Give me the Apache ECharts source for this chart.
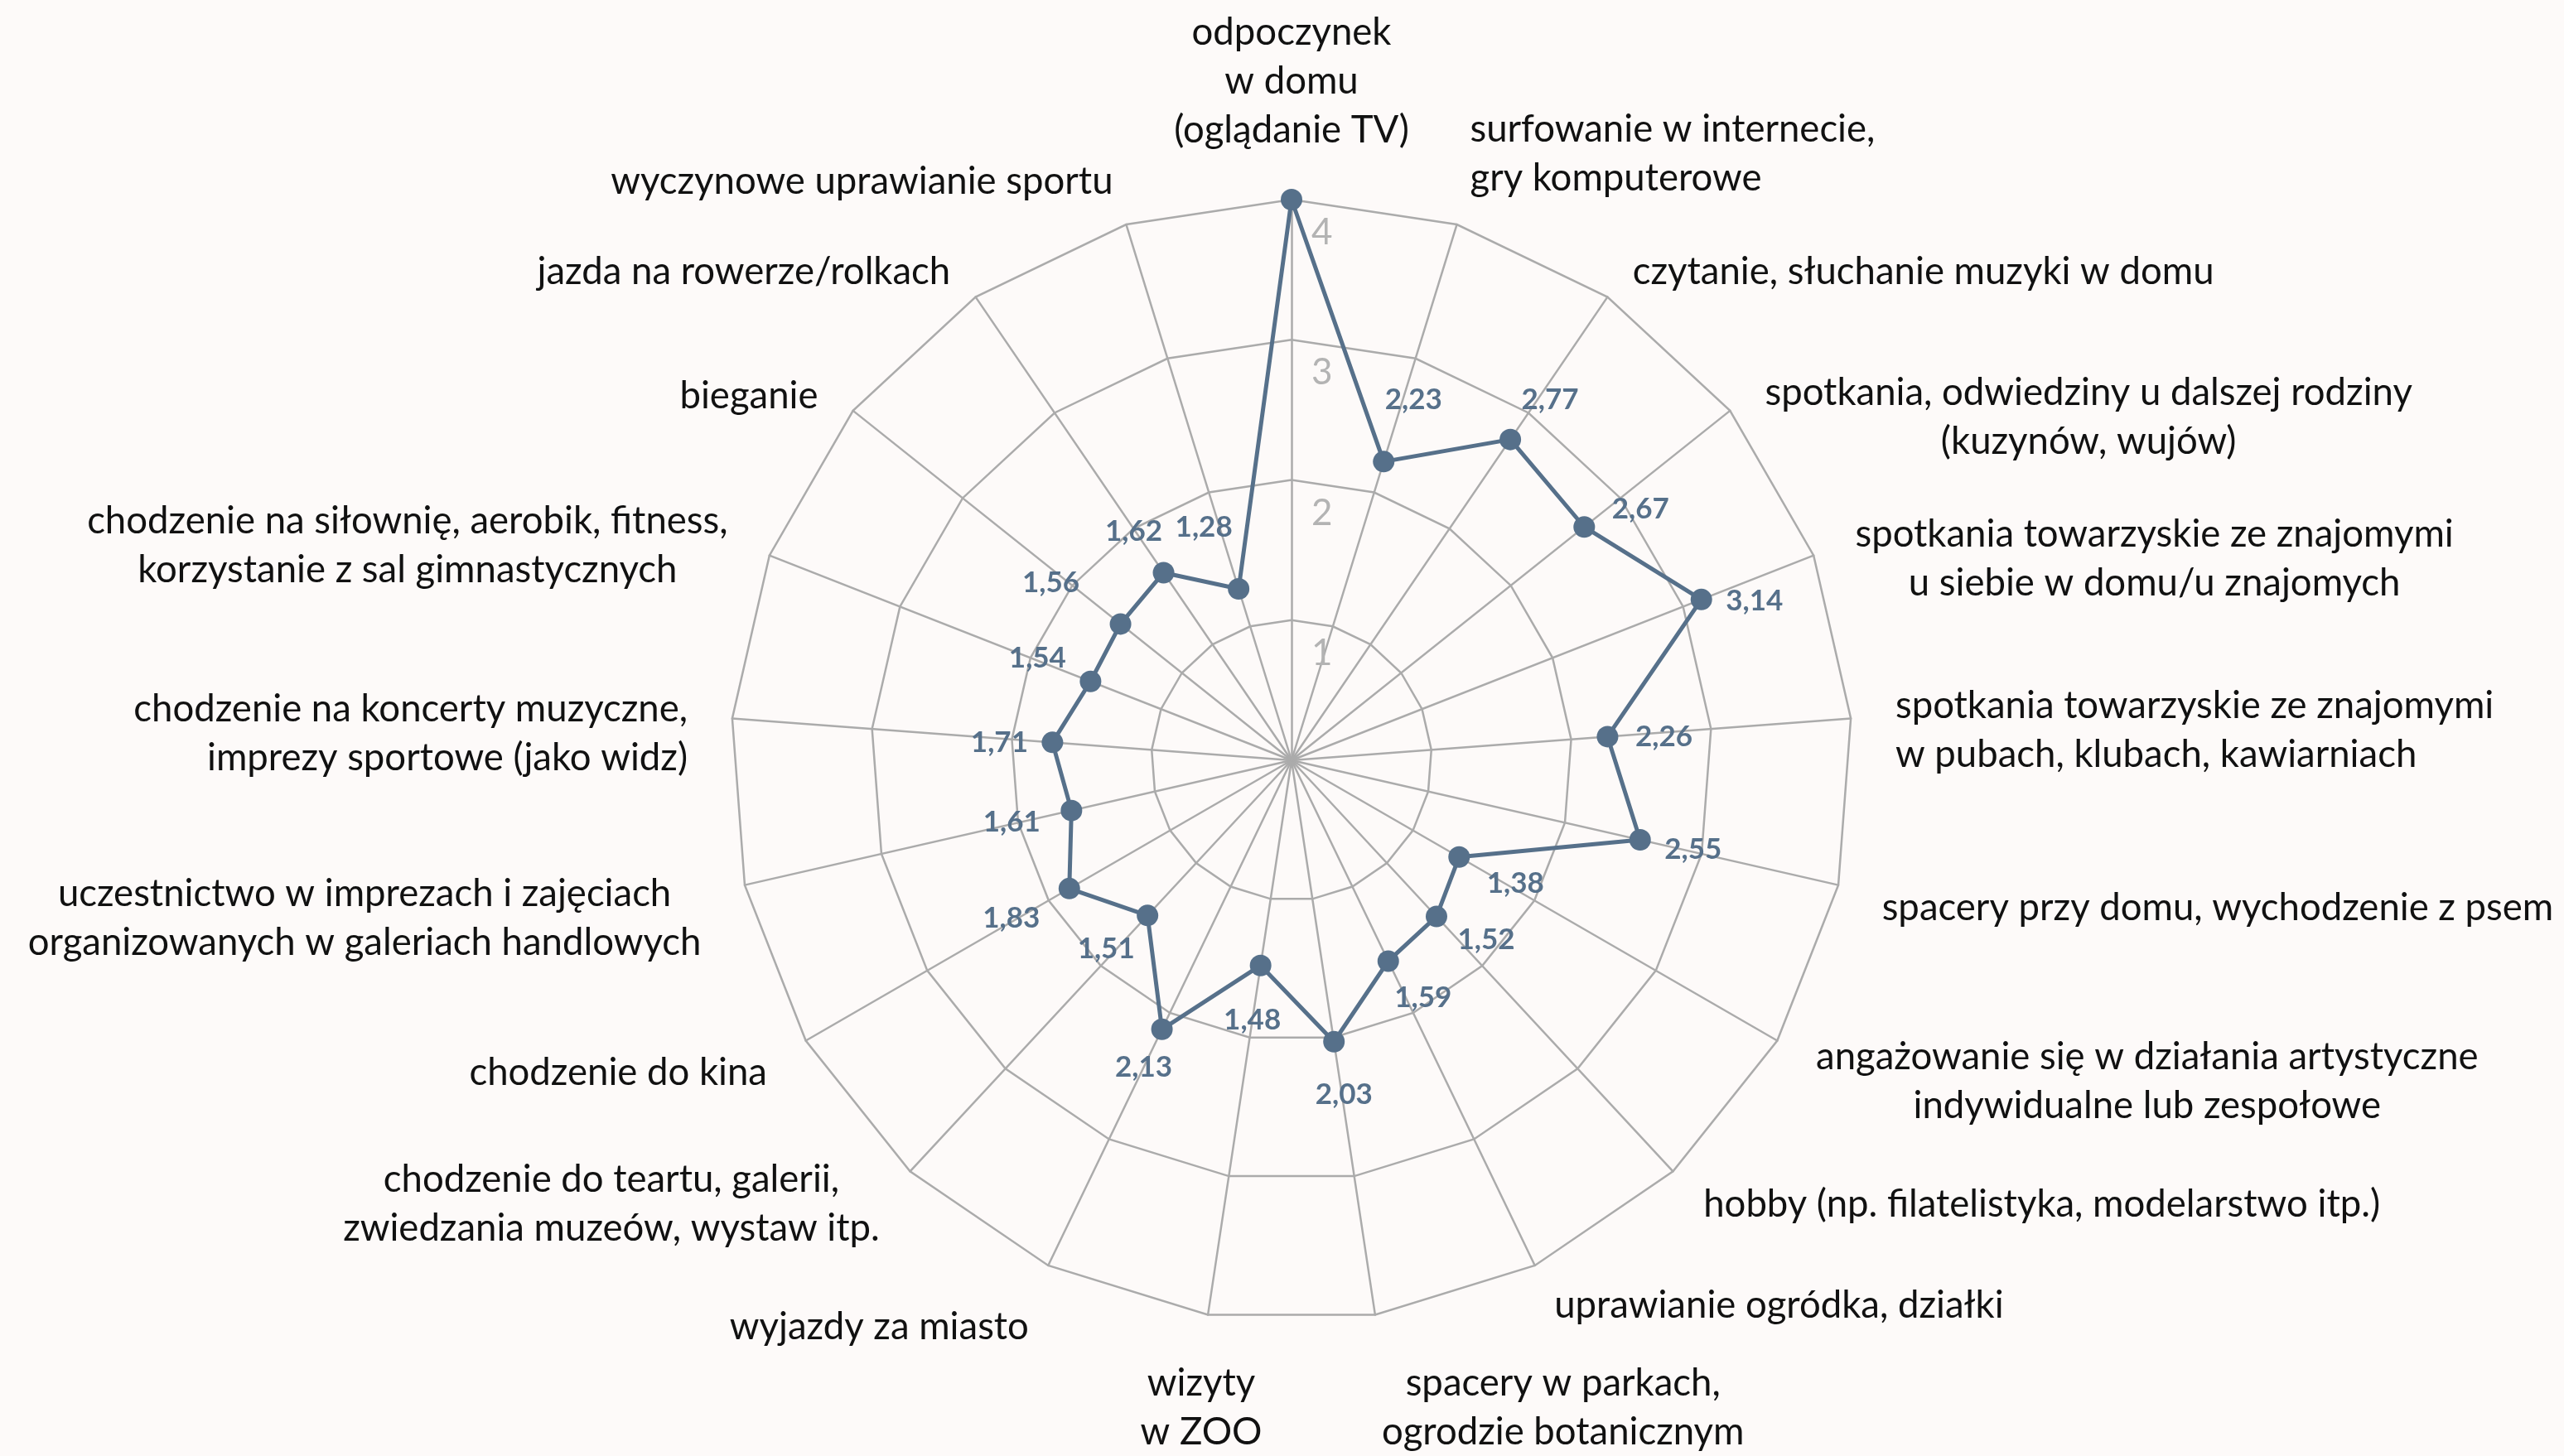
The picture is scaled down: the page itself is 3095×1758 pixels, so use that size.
<!DOCTYPE html>
<html>
<head>
<meta charset="utf-8">
<script src="https://cdn.jsdelivr.net/npm/echarts@6/dist/echarts.min.js"></script>
<style>
html,body{margin:0;padding:0;background:#fdfaf9;}
#c{width:3095px;height:1758px;}
</style>
</head>
<body>
<div id="c"></div>
<script>
// ---- data (clockwise from top, as in the reference) ----
const categories = [
  'odpoczynek\nw domu\n(oglądanie TV)',
  'surfowanie w internecie,\ngry komputerowe',
  'czytanie, słuchanie muzyki w domu',
  'spotkania, odwiedziny u dalszej rodziny\n(kuzynów, wujów)',
  'spotkania towarzyskie ze znajomymi\nu siebie w domu/u znajomych',
  'spotkania towarzyskie ze znajomymi\nw pubach, klubach, kawiarniach',
  'spacery przy domu, wychodzenie z psem',
  'angażowanie się w działania artystyczne\nindywidualne lub zespołowe',
  'hobby (np. filatelistyka, modelarstwo itp.)',
  'uprawianie ogródka, działki',
  'spacery w parkach,\nogrodzie botanicznym',
  'wizyty\nw ZOO',
  'wyjazdy za miasto',
  'chodzenie do teartu, galerii,\nzwiedzania muzeów, wystaw itp.',
  'chodzenie do kina',
  'uczestnictwo w imprezach i zajęciach\norganizowanych w galeriach handlowych',
  'chodzenie na koncerty muzyczne,\nimprezy sportowe (jako widz)',
  'chodzenie na siłownię, aerobik, fitness,\nkorzystanie z sal gimnastycznych',
  'bieganie',
  'jazda na rowerze/rolkach',
  'wyczynowe uprawianie sportu'
];
const values = [4.00, 2.23, 2.77, 2.67, 3.14, 2.26, 2.55, 1.38, 1.52, 1.59, 2.03,
                1.48, 2.13, 1.51, 1.83, 1.61, 1.71, 1.54, 1.56, 1.62, 1.28];
const axisMin = 0;
const axisMax = 4;
const ringTicks = [1, 2, 3, 4];

// ---- styling helpers (not data) ----
const labelOffsets = [
  [0, 0], [36, -75], [48, -48], [68, -22], [64, 2], [68, 0], [64, 12],
  [68, 32], [60, 28], [42, 44], [12, 64], [-10, 66], [-22, 46], [-50, 40],
  [-70, 36], [-72, 14], [-64, 0], [-64, -28], [-84, -50], [-36, -50], [-42, -74]
];
const hiddenValueLabels = [0];
const lineAlignKey = {1: 'l', 5: 'l', 16: 'r'};
const nameOverrides = {
  1: {padding: [0, 0, 68, 0]},
  2: {padding: [28, 0, 0, 0]},
  3: {padding: [84, 0, 0, 0]},
  4: {padding: [48, 0, 0, 0]},
  5: {padding: [36, 0, 0, 0]},
  6: {padding: [32, 0, 0, 0]},
  7: {padding: [44, 0, 0, 0]},
  10: {verticalAlign: 'top'},
  11: {align: 'center', verticalAlign: 'top'},
  12: {padding: [52, 0, 0, 0]},
  14: {padding: [24, 0, 0, 0]},
  15: {padding: [56, 0, 0, 0]},
  16: {padding: [44, 0, 0, 0]},
  17: {padding: [16, 0, 0, 0]},
  18: {padding: [32, 0, 0, 0]},
  19: {padding: [28, 0, 0, 0]}
};

const FONT = 'Lato';
const LINE = '#56708a';
const GRID = '#ababab';

// ECharts radar runs counter-clockwise; map reference order to it
const n = categories.length;
const ecOrder = [];
for (let k = 0; k < n; k++) ecOrder.push((n - k) % n);

const indicators = ecOrder.map(function (i) {
  const ind = {name: categories[i], min: axisMin, max: axisMax};
  if (nameOverrides[i]) ind.nameTextStyle = nameOverrides[i];
  if (i === 0) {
    ind.axisLabel = {
      show: true,
      color: '#b3b3b3',
      fontFamily: FONT,
      fontSize: 44,
      margin: -24,
      align: 'left',
      rich: {
        t: {color: '#b3b3b3', fontFamily: FONT, fontSize: 44, padding: [80, 0, 0, 0]}
      },
      formatter: function (v) { return ringTicks.indexOf(v) >= 0 ? '{t|' + v + '}' : ''; }
    };
  }
  return ind;
});
const ecValues = ecOrder.map(function (i) { return values[i]; });

const nameRichBase = {fontFamily: FONT, fontSize: 45.5, lineHeight: 59, color: '#111111'};
const nameRich = {
  c: Object.assign({align: 'center'}, nameRichBase),
  l: Object.assign({align: 'left'}, nameRichBase),
  r: Object.assign({align: 'right'}, nameRichBase)
};

const valueRich = {};
labelOffsets.forEach(function (o, i) {
  const dx = o[0], dy = o[1];
  valueRich['p' + i] = {
    fontFamily: FONT, fontWeight: 'bold', fontSize: 35, color: LINE,
    padding: [dy > 0 ? 2 * dy : 0, dx < 0 ? -2 * dx : 0, dy < 0 ? -2 * dy : 0, dx > 0 ? 2 * dx : 0]
  };
});

const chart = echarts.init(document.getElementById('c'), null, {renderer: 'canvas'});
chart.setOption({
  backgroundColor: '#fdfaf9',
  animation: false,
  radar: {
    center: [1559, 918],
    radius: 677,
    startAngle: 90,
    splitNumber: 4,
    shape: 'polygon',
    indicator: indicators,
    axisNameGap: 54,
    axisName: {
      color: '#111111',
      fontFamily: FONT,
      fontSize: 45.5,
      lineHeight: 59,
      rich: nameRich,
      formatter: function (name) {
        const idx = categories.indexOf(name);
        const key = lineAlignKey[idx] || 'c';
        return name.split('\n').map(function (l) { return '{' + key + '|' + l + '}'; }).join('\n');
      }
    },
    axisLine: {show: true, lineStyle: {color: GRID, width: 2.5}},
    splitLine: {show: true, lineStyle: {color: GRID, width: 2.5}},
    splitArea: {show: false},
    axisTick: {show: false},
    axisLabel: {show: false}
  },
  series: [{
    type: 'radar',
    symbol: 'circle',
    symbolSize: 26,
    lineStyle: {color: LINE, width: 5},
    itemStyle: {color: LINE},
    label: {
      show: true,
      position: 'inside',
      rich: valueRich,
      formatter: function (p) {
        const i = values.indexOf(p.value);
        if (i < 0 || hiddenValueLabels.indexOf(i) >= 0) return '';
        return '{p' + i + '|' + p.value.toFixed(2).replace('.', ',') + '}';
      }
    },
    data: [{value: ecValues, name: 'średnia'}]
  }]
});
</script>
</body>
</html>
